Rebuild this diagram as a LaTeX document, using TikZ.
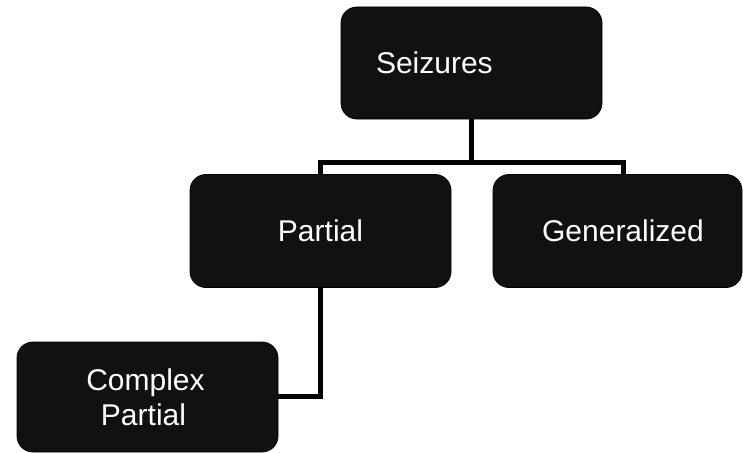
\documentclass[tikz,border=0pt]{standalone}
\usepackage{fontspec}
\setmainfont{Liberation Sans}
\definecolor{boxfill}{RGB}{17,17,17}
\begin{document}
\begin{tikzpicture}[x=1pt,y=-1pt,
  box/.style={draw=black, line width=0.8pt, fill=boxfill, rounded corners=16pt,
    text=white, font=\fontsize{30}{35}\selectfont, inner sep=0pt, align=center},
  conn/.style={draw=black, line width=5pt, line join=miter}]
  \useasboundingbox (0,0) rectangle (743,452);

  % connector junction points
  \coordinate (busL) at (320.5,162);
  \coordinate (busR) at (623,162);
  \coordinate (gtop) at (623,174);

  % connectors (drawn first so the boxes sit on top)
  \draw[conn] (471.5,119) coordinate (stop) -- (stop |- busL);
  \draw[conn] (320.5,174) coordinate (ptop) -- (busL) -- (busR) -- (gtop);
  \draw[conn] (320.5,287) coordinate (pbot) |- (278,396) coordinate (cright);

  % boxes
  \node[box, minimum width=261pt, minimum height=112pt, inner xsep=35pt,
        text width=191pt, align=left] (S) at (471.5,63) {Seizures};
  \node[box, minimum width=261pt, minimum height=113pt] (P) at (320.5,231) {Partial};
  \node[box, minimum width=249pt, minimum height=113pt] (G) at (617.5,231)
       {\hspace*{11pt}Generalized};
  \node[box, minimum width=261pt, minimum height=110pt] (C) at (147.5,397)
       {Complex\hspace*{4pt}\\Partial\hspace*{8pt}};
\end{tikzpicture}
\end{document}
